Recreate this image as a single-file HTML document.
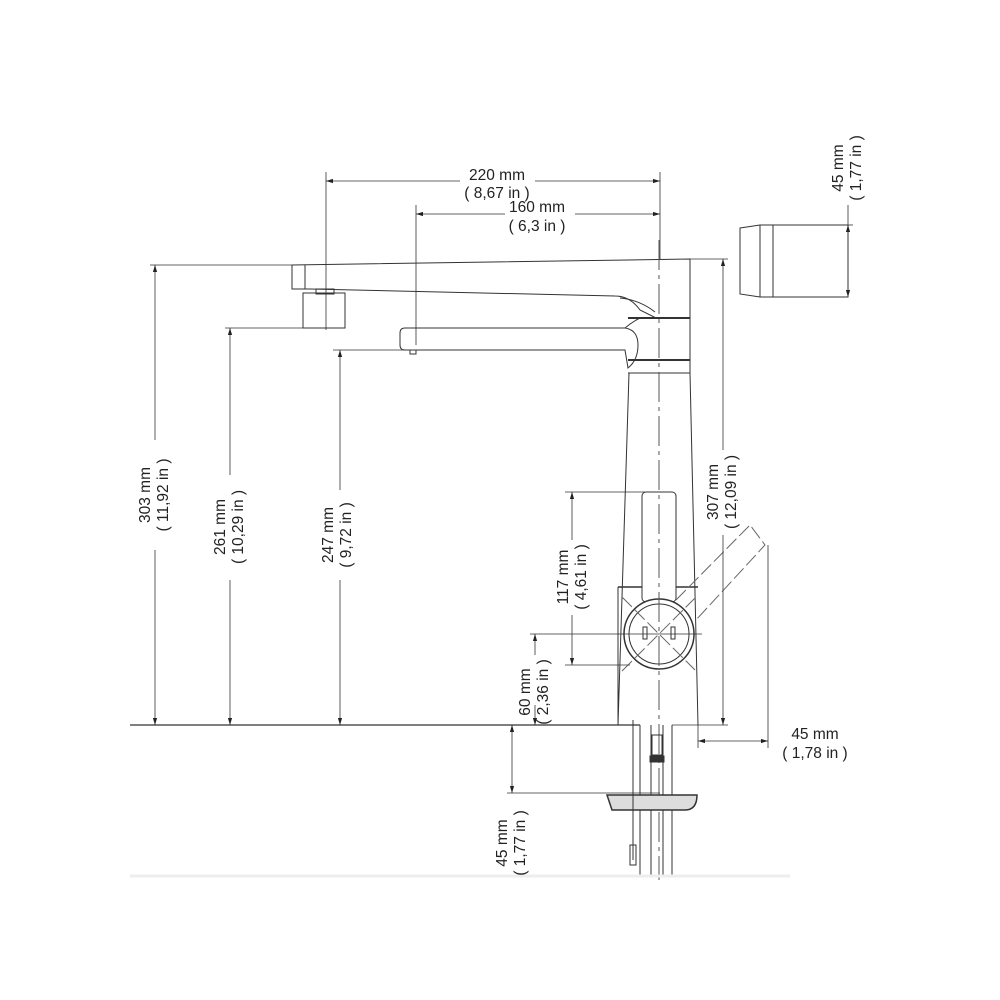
<!DOCTYPE html>
<html><head><meta charset="utf-8"><style>
html,body{margin:0;padding:0;background:#fff;}
svg{display:block}
text{font-family:"Liberation Sans",sans-serif;font-size:15.5px;fill:#222;}
</style></head><body>
<svg width="1000" height="1000" viewBox="0 0 1000 1000">
<defs>
<marker id="a" viewBox="0 0 10 10" refX="10" refY="5" markerWidth="9" markerHeight="9" orient="auto-start-reverse"><path d="M0,2 L10,5 L0,8 z" fill="#222"/></marker>
</defs>
<g stroke="#333" stroke-width="1" fill="none">
<path d="M292,265 L690,259 L690,318 L656,318 L640,310 Q630,296 615,296 L310,289 L292,289 Z" fill="#fff"/>
<line x1="305" y1="265" x2="305" y2="289"/>
<path d="M620,298 Q640,300 655,312" />
<rect x="303" y="293" width="42" height="35" fill="#fff"/>
<rect x="316" y="289" width="18" height="5"/>
<path d="M405,328 L625,328 Q638,330 638,345 Q638,360 628,368 L625,350 L405,350 Q400,350 400,345 L400,333 Q400,328 405,328 Z" fill="#fff"/>
<path d="M625,328 Q632,322 640,318"/>
<rect x="410" y="350" width="6" height="4"/>
<line x1="628" y1="318" x2="690" y2="318" stroke-width="2"/>
<line x1="628" y1="360" x2="690" y2="360" stroke-width="2"/>
<line x1="628" y1="373" x2="690" y2="373"/>
<path d="M629,373 L618,725 M690,318 L690,373 L698,725"/>
<line x1="618" y1="587" x2="698" y2="587" stroke-width="1.5"/>
<line x1="618" y1="587" x2="618" y2="725"/>
<rect x="642" y="492" width="34" height="110" rx="4" fill="#fff"/>
<circle cx="659" cy="634" r="35" fill="#fff" stroke-width="1.5"/>
<circle cx="659" cy="634" r="30"/>
<rect x="643" y="627" width="4" height="12"/>
<rect x="671" y="627" width="4" height="12"/>
<g stroke-dasharray="14,4" stroke="#666">
<path d="M676,600 L750,525 L765,545 L696,620"/>
<line x1="622" y1="597" x2="695" y2="670"/>
<line x1="622" y1="671" x2="696" y2="597"/>
</g>
<line x1="659" y1="240" x2="659" y2="880" stroke="#555" stroke-dasharray="30,5,4,5"/>
<line x1="640" y1="725" x2="640" y2="875"/>
<line x1="672" y1="725" x2="672" y2="875"/>
<line x1="651" y1="725" x2="651" y2="875"/>
<line x1="663" y1="725" x2="663" y2="875"/>
<rect x="652" y="735" width="10" height="20"/>
<rect x="650" y="756" width="14" height="6" fill="#333"/>
<path d="M607,795 L697,795 Q697,810 685,810 L612,810 Z" fill="#ddd" stroke-width="1.5"/>
<line x1="633" y1="720" x2="633" y2="860"/>
<rect x="630" y="845" width="6" height="20"/>
<path d="M740,228 L760,225 L848,225 L848,297 L760,297 L740,294 Z" fill="#fff"/>
<line x1="760" y1="225" x2="760" y2="297"/>
<line x1="773" y1="225" x2="773" y2="297"/>
</g>
<g stroke="#333" stroke-width="0.8" fill="none">
<line x1="326" y1="172" x2="326" y2="330"/>
<line x1="416" y1="205" x2="416" y2="345"/>
<line x1="660" y1="172" x2="660" y2="260"/>
<line x1="326" y1="181" x2="460" y2="181" marker-start="url(#a)"/>
<line x1="535" y1="181" x2="660" y2="181" marker-end="url(#a)"/>
<line x1="416" y1="214" x2="505" y2="214" marker-start="url(#a)"/>
<line x1="575" y1="214" x2="660" y2="214" marker-end="url(#a)"/>
<line x1="150" y1="265" x2="292" y2="265"/>
<line x1="155" y1="265" x2="155" y2="440" marker-start="url(#a)"/>
<line x1="155" y1="550" x2="155" y2="725" marker-end="url(#a)"/>
<line x1="225" y1="328" x2="303" y2="328"/>
<line x1="230" y1="328" x2="230" y2="475" marker-start="url(#a)"/>
<line x1="230" y1="580" x2="230" y2="725" marker-end="url(#a)"/>
<line x1="333" y1="350" x2="410" y2="350"/>
<line x1="340" y1="350" x2="340" y2="490" marker-start="url(#a)"/>
<line x1="340" y1="580" x2="340" y2="725" marker-end="url(#a)"/>
<line x1="130" y1="725" x2="640" y2="725" stroke-width="1.2"/>
<line x1="672" y1="725" x2="728" y2="725"/>
<line x1="690" y1="259" x2="728" y2="259"/>
<line x1="723" y1="259" x2="723" y2="450" marker-start="url(#a)"/>
<line x1="723" y1="535" x2="723" y2="725" marker-end="url(#a)"/>
<line x1="565" y1="492" x2="645" y2="492"/>
<line x1="565" y1="665" x2="630" y2="665"/>
<line x1="572" y1="492" x2="572" y2="540" marker-start="url(#a)"/>
<line x1="572" y1="615" x2="572" y2="665" marker-end="url(#a)"/>
<line x1="530" y1="634" x2="702" y2="634"/>
<line x1="535" y1="634" x2="535" y2="655" marker-start="url(#a)"/>
<line x1="535" y1="705" x2="535" y2="725" marker-end="url(#a)"/>
<line x1="698" y1="725" x2="698" y2="748"/>
<line x1="768" y1="545" x2="768" y2="748"/>
<line x1="698" y1="741" x2="768" y2="741" marker-start="url(#a)" marker-end="url(#a)"/>
<line x1="507" y1="793" x2="660" y2="793"/>
<line x1="512" y1="725" x2="512" y2="793" marker-start="url(#a)" marker-end="url(#a)"/>
<line x1="843" y1="225" x2="853" y2="225"/>
<line x1="848" y1="205" x2="848" y2="297" />
<line x1="848" y1="225" x2="848" y2="297" marker-start="url(#a)" marker-end="url(#a)"/>
</g>
<line x1="130" y1="876" x2="790" y2="876" stroke="#eee" stroke-width="3"/>
<g text-anchor="middle">
<text x="497" y="180">220 mm</text>
<text x="497" y="198">( 8,67 in )</text>
<text x="537" y="212">160 mm</text>
<text x="537" y="231">( 6,3 in )</text>
<text x="815" y="739">45 mm</text>
<text x="815" y="758">( 1,78 in )</text>
<g transform="translate(150,495) rotate(-90)"><text x="0" y="0">303 mm</text><text x="0" y="18">( 11,92 in )</text></g>
<g transform="translate(225,527) rotate(-90)"><text x="0" y="0">261 mm</text><text x="0" y="18">( 10,29 in )</text></g>
<g transform="translate(333,535) rotate(-90)"><text x="0" y="0">247 mm</text><text x="0" y="18">( 9,72 in )</text></g>
<g transform="translate(718,492) rotate(-90)"><text x="0" y="0">307 mm</text><text x="0" y="18">( 12,09 in )</text></g>
<g transform="translate(568,577) rotate(-90)"><text x="0" y="0">117 mm</text><text x="0" y="18">( 4,61 in )</text></g>
<g transform="translate(530,692) rotate(-90)"><text x="0" y="0">60 mm</text><text x="0" y="18">( 2,36 in )</text></g>
<g transform="translate(507,843) rotate(-90)"><text x="0" y="0">45 mm</text><text x="0" y="18">( 1,77 in )</text></g>
<g transform="translate(843,168) rotate(-90)"><text x="0" y="0">45 mm</text><text x="0" y="18">( 1,77 in )</text></g>
</g>
</svg>
</body></html>
